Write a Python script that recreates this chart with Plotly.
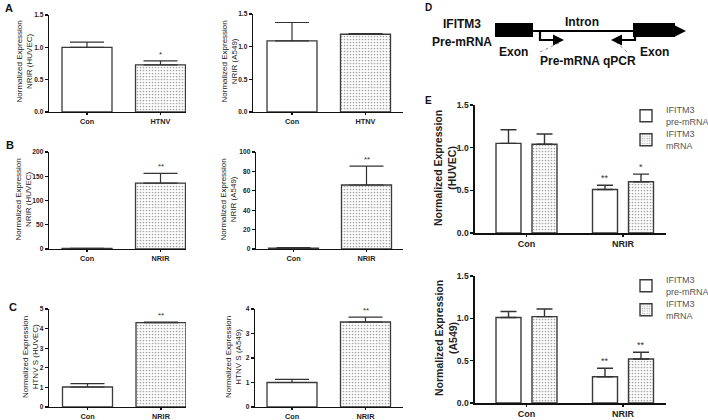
import plotly.graph_objects as go

# ---------------- data ----------------
cats_A = ["Con", "HTNV"]
cats_BC = ["Con", "NRIR"]
cats_E = ["Con", "NRIR"]

A_huvec = [1.00, 0.73]
A_huvec_err = [0.08, 0.06]
A_huvec_sig = ["", "*"]

A_a549 = [1.09, 1.19]
A_a549_err = [0.28, 0.01]
A_a549_sig = ["", ""]

B_huvec = [1.0, 136.0]
B_huvec_err = [0.4, 20.0]
B_huvec_sig = ["", "**"]

B_a549 = [1.0, 66.0]
B_a549_err = [0.4, 19.5]
B_a549_sig = ["", "**"]

C_huvec = [1.02, 4.30]
C_huvec_err = [0.17, 0.03]
C_huvec_sig = ["", "**"]

C_a549 = [1.00, 3.47]
C_a549_err = [0.13, 0.20]
C_a549_sig = ["", "**"]

E_huvec_pre = [1.05, 0.51]
E_huvec_pre_err = [0.16, 0.05]
E_huvec_pre_sig = ["", "**"]
E_huvec_mrna = [1.04, 0.60]
E_huvec_mrna_err = [0.12, 0.09]
E_huvec_mrna_sig = ["", "*"]

E_a549_pre = [1.01, 0.31]
E_a549_pre_err = [0.07, 0.10]
E_a549_pre_sig = ["", "**"]
E_a549_mrna = [1.02, 0.52]
E_a549_mrna_err = [0.09, 0.08]
E_a549_mrna_sig = ["", "**"]

legend_names = ["IFITM3<br>pre-mRNA", "IFITM3<br>mRNA"]

# ---------------- helpers ----------------
W, H = 708, 420
FONT = "Liberation Sans"


def X(px):
    return px / W


def Y(py):
    return 1 - py / H


fig = go.Figure()
annotations = []
shapes = []
layout_axes = {}
legends = {}

OUTLINE = "#3a3a3a"
PAT_FG = "#a6a6a6"
PAT_SIZE = 3
PAT_SOL = 0.25


def style_axes(n, x0, x1, ytop, ybot, c0, d, yrange, dtick, big=False):
    xs = "xaxis" if n == 1 else f"xaxis{n}"
    ys = "yaxis" if n == 1 else f"yaxis{n}"
    xtf = dict(family=FONT, size=9 if big else 7.3, color="#222", weight="bold")
    ytf = dict(family=FONT, size=8.5 if big else 6.6, color="#222", weight="bold")
    common = dict(showline=True, linecolor="#111", linewidth=1.6 if big else 1.3,
                  ticks="outside", tickwidth=1.2, tickcolor="#111",
                  showgrid=False, zeroline=False, fixedrange=True, automargin=False)
    layout_axes[xs] = dict(
        domain=[X(x0), X(x1)], anchor=f"y{'' if n == 1 else n}",
        type="category", categoryorder="array", categoryarray=None,
        range=[(x0 - c0) / d, (x1 - c0) / d], ticklen=2, tickfont=xtf, **common)
    layout_axes[ys] = dict(
        domain=[Y(ybot), Y(ytop)], anchor=f"x{'' if n == 1 else n}",
        range=list(yrange), dtick=dtick, tick0=0, ticklen=3, tickfont=ytf,
        tickformat=".1f" if dtick < 1 else "d", **common)


def two_bar_panel(n, cats, vals, errs, sigs, x0, x1, ytop, ybot, c0, d, yrange, dtick, width_px=50):
    xr = "x" if n == 1 else f"x{n}"
    yr = "y" if n == 1 else f"y{n}"
    style_axes(n, x0, x1, ytop, ybot, c0, d, yrange, dtick)
    xs = "xaxis" if n == 1 else f"xaxis{n}"
    layout_axes[xs]["categoryarray"] = list(cats)
    for i, pat in enumerate(["", "."]):
        fig.add_trace(go.Bar(
            x=[cats[i]], y=[vals[i]], xaxis=xr, yaxis=yr, width=width_px / d,
            marker=dict(color="white", line=dict(color=OUTLINE, width=1.3),
                        pattern=dict(shape=pat, fgcolor=PAT_FG, bgcolor="white",
                                     size=PAT_SIZE, solidity=PAT_SOL)),
            error_y=dict(type="data", symmetric=False, array=[errs[i]], arrayminus=[0],
                         color="#333", thickness=1.2, width=17),
            showlegend=False,
        ))
    for c, v, e, s in zip(cats, vals, errs, sigs):
        if s:
            annotations.append(dict(x=c, y=v + e, xref=xr, yref=yr, text=s, showarrow=False,
                                    yanchor="bottom", yshift=0,
                                    font=dict(family=FONT, size=8, color="#333")))


two_bar_panel(1, cats_A, A_huvec, A_huvec_err, A_huvec_sig, 49, 186, 15, 112, 87, 73.5, (0, 1.5), 0.5)
two_bar_panel(2, cats_A, A_a549, A_a549_err, A_a549_sig, 253, 403, 14, 112, 292, 73.5, (0, 1.5), 0.5)
two_bar_panel(3, cats_BC, B_huvec, B_huvec_err, B_huvec_sig, 49, 186, 152, 249, 87, 73.5, (0, 200), 50)
two_bar_panel(4, cats_BC, B_a549, B_a549_err, B_a549_sig, 256, 403, 152, 249, 293.5, 73, (0, 100), 20)
two_bar_panel(5, cats_BC, C_huvec, C_huvec_err, C_huvec_sig, 49, 186, 309, 407, 87.5, 73.5, (0, 5), 1)
two_bar_panel(6, cats_BC, C_a549, C_a549_err, C_a549_sig, 255, 403, 309, 407, 292, 73.5, (0, 4), 1)


def group_panel(n, legend_ids, legend_ys, pre, pre_err, pre_sig, mrna, mrna_err, mrna_sig, ytop, ybot):
    x0, x1, c0, d = 475, 666, 526.5, 96.5
    xr, yr = f"x{n}", f"y{n}"
    style_axes(n, x0, x1, ytop, ybot, c0, d, (0, 1.5), 0.5, big=True)
    layout_axes[f"xaxis{n}"]["categoryarray"] = list(cats_E)
    bw = 25 / d
    sep = 36 / d
    for vals, errs, sigs, name, pat, off, lid, ly in [
        (pre, pre_err, pre_sig, legend_names[0], "", -sep / 2, legend_ids[0], legend_ys[0]),
        (mrna, mrna_err, mrna_sig, legend_names[1], ".", sep / 2, legend_ids[1], legend_ys[1]),
    ]:
        fig.add_trace(go.Bar(
            x=cats_E, y=vals, xaxis=xr, yaxis=yr, name=name, legend=lid,
            width=bw, offset=off - bw / 2,
            marker=dict(color="white", line=dict(color=OUTLINE, width=1.4),
                        pattern=dict(shape=pat, fgcolor=PAT_FG, bgcolor="white",
                                     size=PAT_SIZE, solidity=PAT_SOL)),
            error_y=dict(type="data", symmetric=False, array=errs, arrayminus=[0] * len(errs),
                         color="#333", thickness=1.4, width=8),
        ))
        legends[lid] = dict(x=X(626), y=Y(ly), xanchor="left", yanchor="middle",
                            bgcolor="rgba(0,0,0,0)", borderwidth=0,
                            font=dict(family=FONT, size=9, color="#555"),
                            tracegroupgap=0, itemwidth=30)
        for c, v, e, s in zip(cats_E, vals, errs, sigs):
            if s:
                annotations.append(dict(x=c, y=v + e, xref=xr, yref=yr, text=s, showarrow=False,
                                        yanchor="bottom", xshift=off * d, yshift=0,
                                        font=dict(family=FONT, size=9, color="#333")))


group_panel(7, ("legend", "legend2"), (116, 140), E_huvec_pre, E_huvec_pre_err, E_huvec_pre_sig,
            E_huvec_mrna, E_huvec_mrna_err, E_huvec_mrna_sig, 105, 233)
group_panel(8, ("legend3", "legend4"), (286, 310), E_a549_pre, E_a549_pre_err, E_a549_pre_sig,
            E_a549_mrna, E_a549_mrna_err, E_a549_mrna_sig, 276, 403)


# ---------------- axis titles ----------------
def ytitle(px, py, text, size=8, bold=False):
    annotations.append(dict(x=X(px), y=Y(py), xref="paper", yref="paper", text=text,
                            textangle=-90, showarrow=False, xanchor="center", yanchor="middle",
                            font=dict(family=FONT, size=size, color="#222",
                                      weight="bold" if bold else "normal")))


ytitle(23.5, 62, "Normalized Expression<br>NRIR (HUVEC)")
ytitle(228.5, 62, "Normalized Expression<br>NRIR (A549)")
ytitle(22.5, 200, "Normalized Expression<br>NRIR (HUVEC)")
ytitle(227.5, 200, "Normalized Expression<br>NRIR (A549)")
ytitle(30, 357, "Normalized Expression<br>HTNV S (HUVEC)")
ytitle(233, 357, "Normalized Expression<br>HTNV S (A549)")
ytitle(445, 168, "Normalized Expression<br>(HUVEC)", size=10.5, bold=True)
ytitle(446, 338, "Normalized Expression<br>(A549)", size=10.5, bold=True)


# ---------------- panel letters ----------------
def label(px, py, text, size=11, anchor="center", color="#111"):
    annotations.append(dict(x=X(px), y=Y(py), xref="paper", yref="paper", text=text,
                            showarrow=False, xanchor=anchor, yanchor="middle",
                            font=dict(family=FONT, size=size, color=color, weight="bold")))


label(9, 8, "A")
label(10, 145, "B")
label(13, 307, "C")
label(428, 7, "D", size=10)
label(428, 100, "E", size=10)

# ---------------- panel D diagram ----------------
LINE = "#000"
shapes.append(dict(type="rect", xref="paper", yref="paper", x0=X(495), x1=X(533), y0=Y(37), y1=Y(23),
                   fillcolor=LINE, line=dict(color=LINE, width=0)))
shapes.append(dict(type="rect", xref="paper", yref="paper", x0=X(633), x1=X(675), y0=Y(37), y1=Y(23),
                   fillcolor=LINE, line=dict(color=LINE, width=0)))
shapes.append(dict(type="line", xref="paper", yref="paper", x0=X(533), x1=X(680), y0=Y(31), y1=Y(31),
                   line=dict(color=LINE, width=1.8)))
shapes.append(dict(type="path", xref="paper", yref="paper",
                   path=f"M {X(540)},{Y(31)} L {X(540)},{Y(40)} L {X(558)},{Y(40)}",
                   line=dict(color=LINE, width=2.2)))
shapes.append(dict(type="path", xref="paper", yref="paper",
                   path=f"M {X(635)},{Y(31)} L {X(635)},{Y(40)} L {X(617)},{Y(40)}",
                   line=dict(color=LINE, width=2.2)))
shapes.append(dict(type="line", xref="paper", yref="paper", x0=X(540), y0=Y(52), x1=X(559), y1=Y(43),
                   line=dict(color="#777", width=0.8, dash="dot")))
shapes.append(dict(type="line", xref="paper", yref="paper", x0=X(627), y0=Y(52), x1=X(617), y1=Y(43),
                   line=dict(color="#777", width=0.8, dash="dot")))
for xh, yh, ax in [(686, 31, -8), (564, 40, -8), (611, 40, 8)]:
    annotations.append(dict(x=X(xh), y=Y(yh), xref="paper", yref="paper", text="", showarrow=True,
                            ax=ax, ay=0, arrowhead=2, arrowsize=1.1, arrowwidth=2, arrowcolor=LINE,
                            standoff=0))

label(462, 24, "IFITM3", size=12)
label(462, 42, "Pre-mRNA", size=12)
label(582, 22, "Intron", size=12)
label(513, 52, "Exon", size=12)
label(654, 52, "Exon", size=12)
label(588, 61, "Pre-mRNA qPCR", size=12)

fig.update_layout(
    template="none",
    width=W, height=H,
    margin=dict(l=0, r=0, t=0, b=0, autoexpand=False),
    paper_bgcolor="white", plot_bgcolor="white",
    barmode="overlay",
    annotations=annotations,
    shapes=shapes,
    showlegend=True,
    **legends,
    **layout_axes,
)

# the default page body has an 8px margin; remove it so the figure fills the window
fig.write_html("out.html", config={"displayModeBar": False, "staticPlot": True},
               post_script="document.body.style.margin='0';")
